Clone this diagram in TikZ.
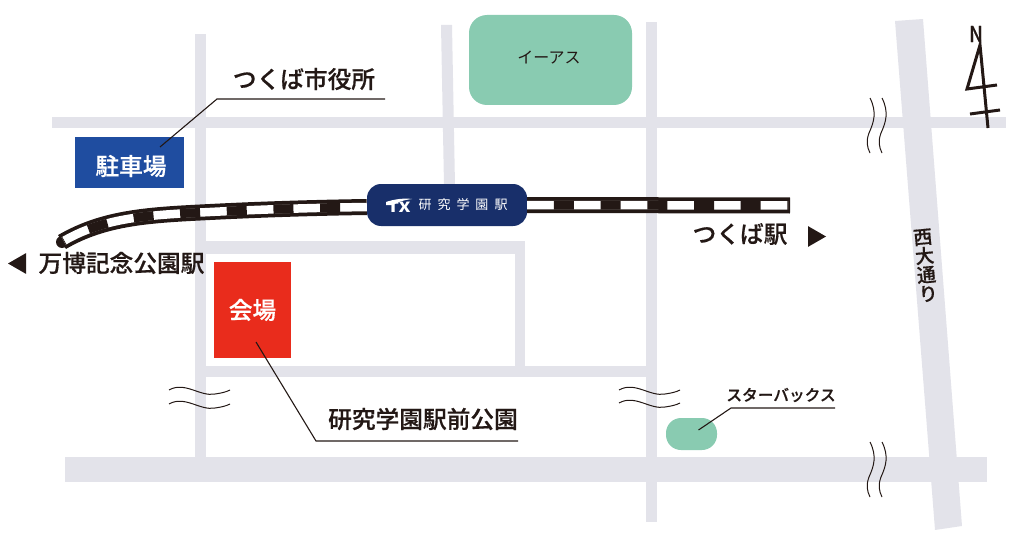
\documentclass[tikz,border=0pt]{standalone}
\usepackage{fontspec}
\setmainfont{Noto Sans CJK JP}[BoldFont=* Medium, BoldFeatures={FakeBold=0.5}]
\usetikzlibrary{shapes, arrows, positioning, calc}
\definecolor{roadgray}{HTML}{E3E3EA}
\definecolor{mintgreen}{HTML}{89CBB1}
\definecolor{parkblue}{HTML}{1F4DA0}
\definecolor{hallred}{HTML}{E92C1C}
\definecolor{txnavy}{HTML}{182F6A}
\definecolor{inkblack}{HTML}{231815}
\tikzset{
    road/.style={fill=roadgray, draw=none},
    leader/.style={draw=inkblack, line width=1.1pt},
    wavy/.style={draw=inkblack, line width=1pt},
    blocklabel/.style={font=\fontsize{23.7}{26}\bfseries, text=inkblack, inner sep=0pt},
    smalllabel/.style={font=\fontsize{15.7}{18}\bfseries, text=inkblack, inner sep=0pt},
    rail/.style={draw=inkblack, line width=16pt,
        postaction={draw=white, line width=8.5pt, shorten >=2pt},
        postaction={draw=inkblack, line width=9pt, shorten >=2pt, dash pattern=on 20pt off 26.7pt, dash phase=20pt}},
    pointer/.style={regular polygon, regular polygon sides=3, fill=inkblack, inner sep=0pt, minimum size=24pt}
}
\begin{document}
\begin{tikzpicture}[x=1pt, y=-1pt]
    \useasboundingbox (0,0) rectangle (1024,540);

    % roads
    \fill[road] (52,117) rectangle (1006,128);
    \fill[road] (65,457) rectangle (987,482);
    \fill[road] (195,34) rectangle (206,458);
    \fill[road] (441,25) -- (452,25) -- (455,186) -- (444,186) -- cycle;
    \fill[road] (646,22) rectangle (657,522);
    \fill[road] (206,241) rectangle (525,254);
    \fill[road] (515,254) rectangle (525,366);
    \fill[road] (206,366) rectangle (646,377);
    \fill[road] (895,21) -- (923,19) -- (962,526) -- (935,530) -- cycle;

    % places
    \node[fill=mintgreen, rounded corners=18pt, minimum width=163pt, minimum height=90pt] at (550.5,60) (aeon) {};
    \node[smalllabel, font=\fontsize{16}{18}\selectfont] at (549,58) (aeontext) {イーアス};
    \node[fill=mintgreen, rounded corners=15pt, minimum width=51pt, minimum height=32pt] at (691.5,434) (starbucks) {};
    \node[fill=parkblue, minimum width=109pt, minimum height=51pt] at (129.5,162.5) (parking) {};
    \node[blocklabel, text=white] at (131,166) (parkingtext) {駐車場};
    \node[fill=hallred, text=white, font=\fontsize{23.7}{26}\bfseries, minimum width=77pt, minimum height=96pt] at (252.5,310) (hall) {会場};

    % track
    \coordinate (trackw) at (62,242);
    \coordinate (trackm) at (210,212);
    \coordinate (tracke) at (790,205.5);
    \node[fill=txnavy, rounded corners=14pt, minimum width=160pt, minimum height=42pt] at (447,205) (station) {};
    \fill[inkblack] (trackw) circle (6pt);
    \draw[rail] ($(station.west)+(0,2)$) .. controls (300,208) and (250,210) .. (trackm) .. controls (150,215) and (105,217) .. (trackw);
    \draw[rail] (station.east) -- (tracke);
    \fill[white] (386,202) .. controls (395,199) and (404,198) .. (412,199) .. controls (404,200) and (397,202) .. (393,205) -- (386,205) -- cycle;
    \node[font=\fontsize{14}{17}\bfseries\itshape, text=white, inner sep=0pt, xscale=1.3] at (399,207) (txlogo) {TX};
    \node[font=\fontsize{13}{14}\selectfont, text=white, inner sep=0pt] at (463,205) (stationtext) {研\hspace{6pt}究\hspace{6pt}学\hspace{6pt}園\hspace{6pt}駅};

    % labels
    \node[blocklabel] at (304,79) (cityhall) {つくば市役所};
    \node[blocklabel] at (121.5,263) (banpaku) {万博記念公園駅};
    \node[blocklabel] at (740,234) (tsukuba) {つくば駅};
    \node[blocklabel] at (423,419) (park) {研究学園駅前公園};
    \node[smalllabel] at (781,395) (starlabel) {スターバックス};
    \node[pointer, shape border rotate=90] at (20,263.5) (pointw) {};
    \node[pointer, shape border rotate=-90] at (814,236.5) (pointe) {};
    \node[font=\fontsize{19}{19}\bfseries, text=inkblack, inner sep=0pt, align=center, rotate=5.5] at (925.5,265.5) (nishi) {西\\大\\通\\り};

    % leader lines
    \coordinate (parkingtop) at (160,147);
    \coordinate (parkingbend) at (217,99);
    \coordinate (cityend) at (385,99);
    \draw[leader] (parkingtop) -- (parkingbend) -- (cityend);
    \coordinate (hallin) at (256,342);
    \coordinate (hallbend) at (316,441);
    \coordinate (parkend) at (518,441);
    \draw[leader] (hallin) -- (hallbend) -- (parkend);
    \coordinate (starbend) at (731,408);
    \coordinate (starend) at (835,408);
    \draw[leader] (starbucks.center) ++(7,-4) -- (starbend) -- (starend);

    % breaks
    \foreach \ox/\oy in {0/0, 450/0, 0/14, 450/13}
        \draw[wavy, xshift=\ox pt, yshift=-\oy pt] (169,390) .. controls (185,381) and (200,397) .. (215,394) .. controls (222,393) and (226,392) .. (230,390);
    \foreach \ox/\oy in {0/0, 12/0, 0/344, 12/344}
        \draw[wavy, xshift=\ox pt, yshift=-\oy pt] (870,98) .. controls (877,112) and (874,122) .. (869,133) .. controls (866,141) and (867,147) .. (870,153);

    % north mark
    \node[font=\fontsize{22}{24}\bfseries, text=inkblack, inner sep=0pt, xscale=0.85] at (976,34) (north) {N};
    \coordinate (ntip) at (980,45);
    \coordinate (nfoot) at (988,128);
    \coordinate (nleft) at (967,89);
    \coordinate (nright) at (997,85);
    \draw[draw=inkblack, line width=3pt] (nfoot) -- (ntip) -- (nleft) -- (nright);
    \draw[draw=inkblack, line width=3pt] (970,114) -- (1000,110);
\end{tikzpicture}
\end{document}
